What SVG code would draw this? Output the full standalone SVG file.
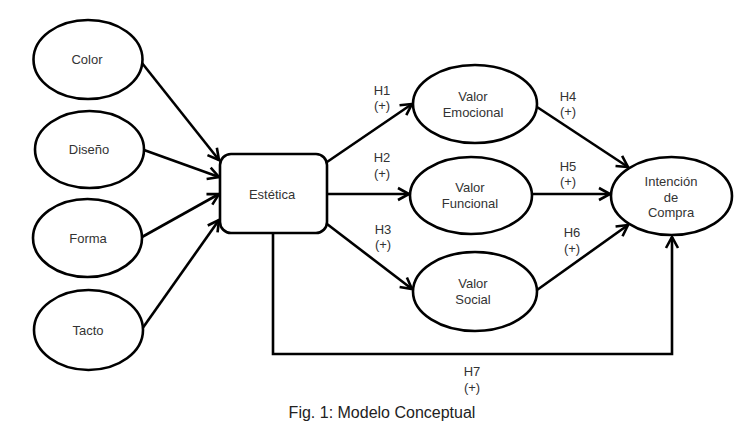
<svg xmlns="http://www.w3.org/2000/svg" width="754" height="428" viewBox="0 0 754 428">
<defs>
<style>
.n{fill:#fff;stroke:#000;stroke-width:2.6}
.t{font-family:"Liberation Sans",Arial,sans-serif;font-size:13px;fill:#333;text-anchor:middle}
.c{fill:none;stroke:#000;stroke-width:2.6}
.cap{font-family:"Liberation Sans",Arial,sans-serif;font-size:16px;fill:#222;text-anchor:middle}
</style>
<marker id="a" markerUnits="userSpaceOnUse" markerWidth="16" markerHeight="16" refX="12" refY="6" orient="auto" overflow="visible">
<path d="M1,0 L12,6 L1,12" fill="none" stroke="#000" stroke-width="2.6"/>
</marker>
</defs>
<rect width="754" height="428" fill="#fff"/>
<g id="connectors">
<line class="c" x1="142" y1="63" x2="219" y2="160" marker-end="url(#a)"/>
<line class="c" x1="144" y1="150" x2="219" y2="177" marker-end="url(#a)"/>
<line class="c" x1="142" y1="237" x2="219" y2="194" marker-end="url(#a)"/>
<line class="c" x1="142" y1="329" x2="219" y2="220" marker-end="url(#a)"/>
<line class="c" x1="327" y1="162" x2="412" y2="104" marker-end="url(#a)"/>
<line class="c" x1="327" y1="194" x2="409" y2="194" marker-end="url(#a)"/>
<line class="c" x1="327" y1="224" x2="412" y2="289" marker-end="url(#a)"/>
<line class="c" x1="537" y1="107" x2="628" y2="167" marker-end="url(#a)"/>
<line class="c" x1="532" y1="194" x2="610" y2="194" marker-end="url(#a)"/>
<line class="c" x1="537" y1="290" x2="628" y2="225" marker-end="url(#a)"/>
<polyline class="c" points="273,233 273,354 672,354 672,237" marker-end="url(#a)"/>
</g>
<g id="color"><ellipse class="n" cx="88" cy="59.5" rx="54.5" ry="39.5"/><text class="t" x="87" y="64">Color</text></g>
<g id="diseno"><ellipse class="n" cx="89.5" cy="149.5" rx="54.5" ry="38.5"/><text class="t" x="89" y="154">Diseño</text></g>
<g id="forma"><ellipse class="n" cx="87.5" cy="238" rx="54.5" ry="39"/><text class="t" x="88" y="243">Forma</text></g>
<g id="tacto"><ellipse class="n" cx="88.5" cy="330" rx="54.5" ry="40"/><text class="t" x="88" y="335">Tacto</text></g>
<g id="estetica"><rect class="n" x="220" y="154" width="107" height="79" rx="11"/><text class="t" x="272" y="199">Estética</text></g>
<g id="emocional"><ellipse class="n" cx="475" cy="104" rx="62" ry="39"/><text class="t" x="473" y="101">Valor</text><text class="t" x="473" y="117">Emocional</text></g>
<g id="funcional"><ellipse class="n" cx="471" cy="195.5" rx="61" ry="38.5"/><text class="t" x="470" y="192">Valor</text><text class="t" x="470" y="208">Funcional</text></g>
<g id="social"><ellipse class="n" cx="475" cy="291.5" rx="62" ry="39.5"/><text class="t" x="473" y="288">Valor</text><text class="t" x="473" y="304">Social</text></g>
<g id="intencion"><ellipse class="n" cx="671.5" cy="196" rx="60.5" ry="39"/><text class="t" x="671" y="186">Intención</text><text class="t" x="671" y="202">de</text><text class="t" x="671" y="217">Compra</text></g>
<g id="labels">
<text class="t" x="382" y="95">H1</text><text class="t" x="382" y="110">(+)</text>
<text class="t" x="382" y="162">H2</text><text class="t" x="382" y="178">(+)</text>
<text class="t" x="383" y="234">H3</text><text class="t" x="383" y="249">(+)</text>
<text class="t" x="568" y="101">H4</text><text class="t" x="568" y="116">(+)</text>
<text class="t" x="568" y="171">H5</text><text class="t" x="568" y="186">(+)</text>
<text class="t" x="572" y="237">H6</text><text class="t" x="572" y="253">(+)</text>
<text class="t" x="472" y="376">H7</text><text class="t" x="472" y="392">(+)</text>
</g>
<text class="cap" x="382" y="418">Fig. 1: Modelo Conceptual</text>
</svg>
